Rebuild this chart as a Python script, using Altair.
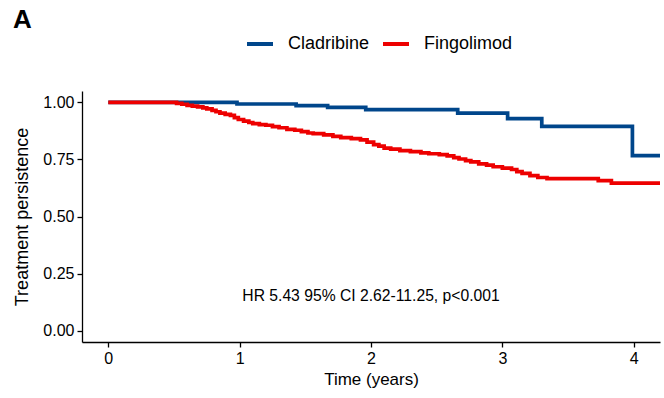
import altair as alt
import pandas as pd

# Kaplan-Meier step points (years, persistence) for each treatment arm
clad_t = [0.0, 0.98, 1.43, 1.67, 1.96, 2.66, 3.04, 3.30, 3.99, 4.20]
clad_s = [1.000, 0.993, 0.986, 0.978, 0.968, 0.953, 0.929, 0.895, 0.767, 0.767]

fingo_t = [0.0, 0.52, 0.56, 0.60, 0.64, 0.68, 0.72, 0.75, 0.79, 0.82, 0.85,
           0.89, 0.93, 0.96, 0.99, 1.03, 1.07, 1.10, 1.15, 1.20, 1.25, 1.30,
           1.36, 1.42, 1.47, 1.52, 1.56, 1.64, 1.71, 1.77, 1.85, 1.92, 1.97,
           2.02, 2.06, 2.10, 2.15, 2.22, 2.30, 2.38, 2.44, 2.52, 2.58, 2.63,
           2.67, 2.72, 2.76, 2.82, 2.88, 2.93, 3.00, 3.07, 3.11, 3.15, 3.21,
           3.27, 3.34, 3.73, 3.83, 4.20]
fingo_s = [1.000, 0.996, 0.992, 0.987, 0.984, 0.980, 0.976, 0.972, 0.965, 0.959,
           0.953, 0.948, 0.943, 0.933, 0.925, 0.918, 0.912, 0.907, 0.903, 0.900,
           0.894, 0.889, 0.882, 0.878, 0.872, 0.866, 0.863, 0.858, 0.851, 0.846,
           0.841, 0.836, 0.826, 0.815, 0.808, 0.800, 0.795, 0.789, 0.784, 0.779,
           0.775, 0.771, 0.766, 0.758, 0.752, 0.745, 0.739, 0.731, 0.725, 0.718,
           0.712, 0.706, 0.697, 0.689, 0.679, 0.671, 0.666, 0.657, 0.646, 0.646]

groups = ["Cladribine", "Fingolimod"]
colors = ["#00468B", "#ED0000"]

x_ticks = [0, 1, 2, 3, 4]
y_ticks = [0.0, 0.25, 0.5, 0.75, 1.0]

hr_text = "HR 5.43 95% CI 2.62-11.25, p<0.001"
hr_pos = (2.0, 0.15)

df = pd.concat([
    pd.DataFrame({"time": clad_t, "surv": clad_s, "group": groups[0]}),
    pd.DataFrame({"time": fingo_t, "surv": fingo_s, "group": groups[1]}),
])

FONT = "Liberation Sans"

x_enc = alt.X("time:Q",
              scale=alt.Scale(domain=[-0.2, 4.2], nice=False, zero=False),
              axis=alt.Axis(title="Time (years)", values=x_ticks, format="d",
                            titleFontSize=17, titlePadding=5))
y_enc = alt.Y("surv:Q",
              scale=alt.Scale(domain=[-0.05, 1.05], nice=False, zero=False),
              axis=alt.Axis(title="Treatment persistence", values=y_ticks,
                            format=".2f", titleFontSize=18, titlePadding=11))

curves = alt.Chart(df).mark_line(interpolate="step-after", strokeWidth=3.7).encode(
    x=x_enc,
    y=y_enc,
    color=alt.Color("group:N",
                    scale=alt.Scale(domain=groups, range=colors),
                    legend=alt.Legend(title=None, orient="none", direction="horizontal",
                                      legendX=163, legendY=-62,
                                      symbolType="stroke", symbolSize=676,
                                      symbolStrokeWidth=4, labelFontSize=18,
                                      labelFont=FONT, labelColor="black",
                                      labelOffset=13, columnPadding=5,
                                      padding=0)),
)

annot_df = pd.DataFrame({"time": [hr_pos[0]], "surv": [hr_pos[1]], "label": [hr_text]})
annot = alt.Chart(annot_df).mark_text(font=FONT, fontSize=15.7, color="black",
                                      align="center", baseline="middle").encode(
    x="time:Q", y="surv:Q", text="label:N")

panel = alt.Chart(annot_df).mark_text(font=FONT, fontSize=26, fontWeight="bold",
                                      color="black", align="left",
                                      baseline="alphabetic").encode(
    x=alt.value(-69), y=alt.value(-63), text=alt.value("A"))

chart = alt.layer(curves, annot, panel).properties(
    width=578, height=251,
    autosize=alt.AutoSizeParams(type="none"),
    padding={"left": 82, "top": 91, "right": 4, "bottom": 56},
).configure(
    background="white"
).configure_view(
    stroke=None
).configure_axis(
    grid=False,
    domainColor="black", domainWidth=1.3,
    tickColor="black", tickWidth=1.3, tickSize=5,
    labelColor="black", labelFont=FONT, labelFontSize=16, labelPadding=3,
    titleColor="black", titleFont=FONT, titleFontWeight="normal",
)

chart.save("out.html", embed_options={"renderer": "svg", "actions": False})
